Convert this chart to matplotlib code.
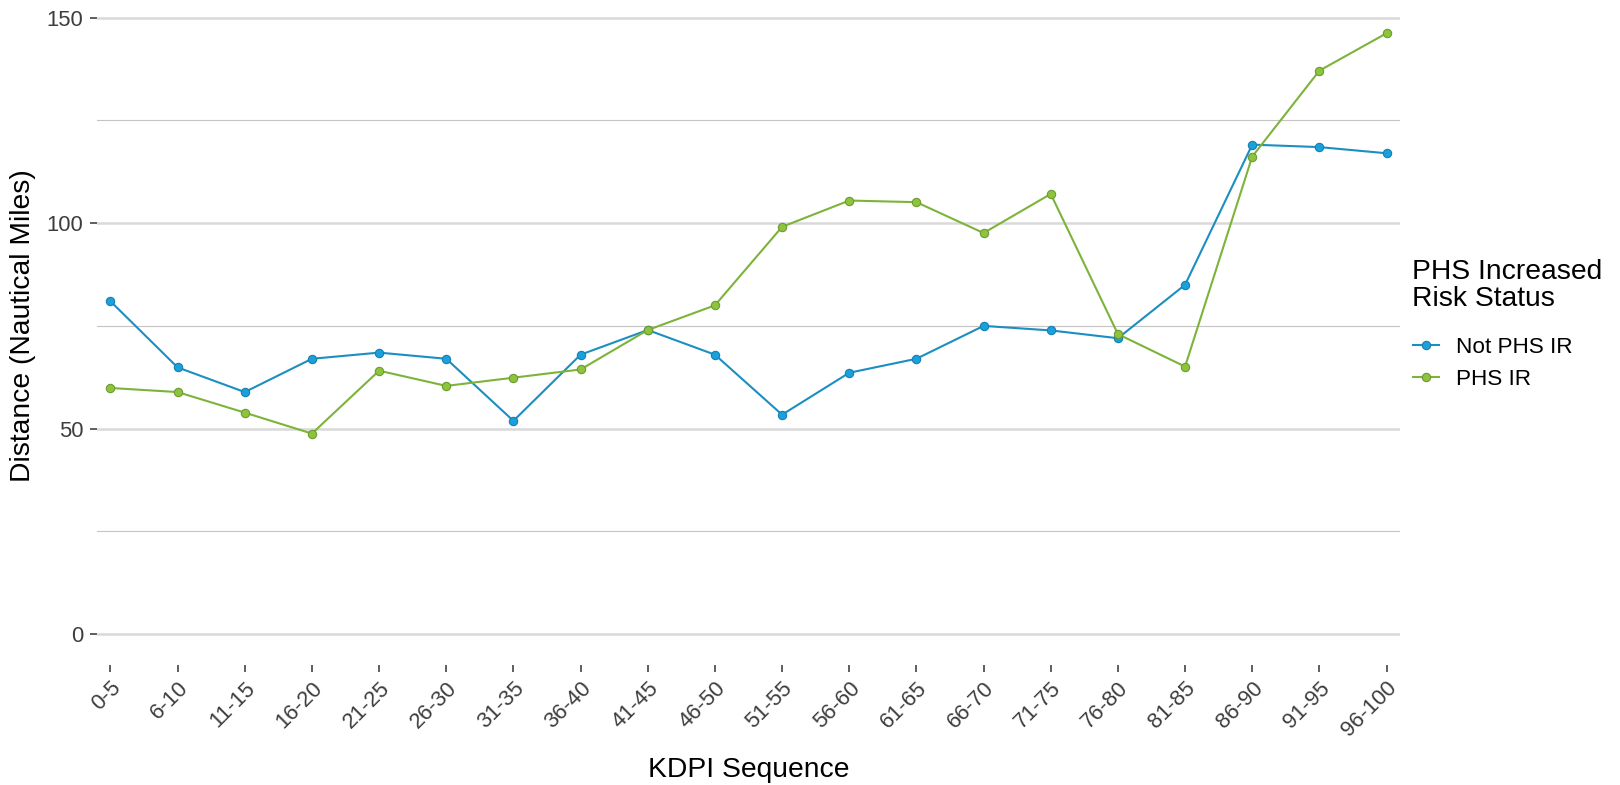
import matplotlib
matplotlib.use("Agg")
import matplotlib.pyplot as plt
from matplotlib.ticker import MultipleLocator

categories = ["0-5", "6-10", "11-15", "16-20", "21-25", "26-30", "31-35", "36-40",
              "41-45", "46-50", "51-55", "56-60", "61-65", "66-70", "71-75", "76-80",
              "81-85", "86-90", "91-95", "96-100"]
not_phs_ir = [81.0, 64.9, 58.9, 67.0, 68.5, 67.0, 51.9, 68.0, 74.0, 68.0,
              53.4, 63.6, 67.0, 75.0, 73.9, 72.0, 85.0, 119.1, 118.5, 117.0]
phs_ir = [59.9, 58.9, 53.9, 48.8, 64.1, 60.4, 62.4, 64.4, 74.0, 80.0,
          99.1, 105.5, 105.1, 97.6, 107.1, 73.0, 65.1, 116.2, 137.1, 146.2]
series_names = ["Not PHS IR", "PHS IR"]
yticks = [0, 50, 100, 150]

plt.rcParams['font.family'] = ['Liberation Sans', 'DejaVu Sans']

W, H = 1620, 785
fig = plt.figure(figsize=(W / 100, H / 100), dpi=100)
left, right, bottom, top = 97, 1400, 665, -13.2
ax = fig.add_axes([left / W, (H - bottom) / H, (right - left) / W, (bottom - top) / H])

x = list(range(len(categories)))
blue_line, blue_face, blue_edge = "#1B8EC2", "#1AA0DC", "#1680B0"
green_line, green_face, green_edge = "#7DB33A", "#8CC43C", "#6E9A34"

ax.plot(x, not_phs_ir, color=blue_line, lw=1.5, marker='o', ms=6.0,
        mfc=blue_face, mec=blue_edge, mew=0.8, label=series_names[0], zorder=3)
ax.plot(x, phs_ir, color=green_line, lw=1.5, marker='o', ms=6.0,
        mfc=green_face, mec=green_edge, mew=0.8, label=series_names[1], zorder=3)

ax.set_xlim(-0.2, len(categories) - 1 + 0.2)
ax.set_ylim(-7.5, 157.5)
ax.set_yticks(yticks)
ax.yaxis.set_minor_locator(MultipleLocator(25))
ax.set_xticks(x)
ax.set_xticklabels(categories, rotation=45, ha='right', va='top', rotation_mode='anchor')

ax.grid(True, which='major', axis='y', color='#D9D9D9', lw=1.8, zorder=0)
ax.grid(True, which='minor', axis='y', color='#C4C4C4', lw=0.8, zorder=0)
ax.grid(False, axis='x')
for s in ax.spines.values():
    s.set_visible(False)
ax.set_facecolor('white')

ax.tick_params(axis='both', which='major', labelsize=15.8, labelcolor='#3d3d3d',
               color='#333333', length=5, width=1.1)
ax.tick_params(axis='x', pad=4)
ax.tick_params(axis='y', pad=5)
ax.tick_params(axis='y', which='minor', length=0)

fig.text(748.5 / W, (H - 777) / H, "KDPI Sequence", ha='center', va='baseline',
         fontsize=20.3, color='black')
fig.text(23 / W, (H - 326) / H, "Distance (Nautical Miles)", ha='center', va='center',
         rotation=90, fontsize=20.3, color='black')

leg = ax.legend(loc='upper left', bbox_to_anchor=(1412.5 / W, (H - 259) / H),
                bbox_transform=fig.transFigure, frameon=False,
                title="PHS Increased\nRisk Status", title_fontsize=20.3, fontsize=16.2,
                alignment='left', handlelength=1.16, handletextpad=0.77,
                labelspacing=0.5, borderaxespad=0, borderpad=0)
leg.get_title().set_linespacing(1.05)
leg._legend_box.sep = 18

fig.savefig("out.png", dpi=100, facecolor='white')
